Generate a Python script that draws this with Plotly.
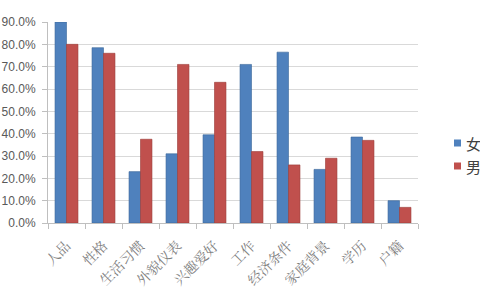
import plotly.graph_objects as go

categories = ["人品", "性格", "生活习惯", "外貌仪表", "兴趣爱好", "工作", "经济条件", "家庭背景", "学历", "户籍"]
female = [0.90, 0.785, 0.23, 0.31, 0.395, 0.71, 0.765, 0.24, 0.385, 0.10]
male = [0.80, 0.76, 0.375, 0.71, 0.63, 0.32, 0.26, 0.29, 0.37, 0.07]
series_names = ["女", "男"]
series_colors = ["#4F81BD", "#C0504D"]
ytick_vals = [i / 10 for i in range(10)]
ytick_text = [f"{i*10}.0%" for i in range(10)]

fig = go.Figure()
fig.add_trace(go.Bar(x=categories, y=female, name=series_names[0],
                     marker=dict(color=series_colors[0], line=dict(color="#3A6699", width=0.6))))
fig.add_trace(go.Bar(x=categories, y=male, name=series_names[1],
                     marker=dict(color=series_colors[1], line=dict(color="#9A3B38", width=0.6))))

# manual legend (paper coordinates relative to plot area)
W, H = 480, 300
L, R, T, B = 48, 62, 22, 77
pw, ph = W - L - R, H - T - B

def px_x(x):
    return (x - L) / pw

def px_y(y):
    return (H - B - y) / ph

shapes = []
annotations = []
for i, (name, col) in enumerate(zip(series_names, series_colors)):
    cy = 143 + i * 23
    shapes.append(dict(type="rect", xref="paper", yref="paper",
                       x0=px_x(454), x1=px_x(461), y0=px_y(cy + 3.5), y1=px_y(cy - 3.5),
                       fillcolor=col, line=dict(width=0)))
    annotations.append(dict(xref="paper", yref="paper", x=px_x(464), y=px_y(cy),
                            xanchor="left", yanchor="middle", text=name, showarrow=False,
                            font=dict(size=15, family="Noto Sans CJK SC", color="#404040")))

fig.update_layout(
    width=W, height=H,
    margin=dict(l=L, r=R, t=T, b=B, autoexpand=False),
    paper_bgcolor="white", plot_bgcolor="white",
    barmode="group", bargap=0.38, bargroupgap=0.0,
    font=dict(family="Liberation Sans, Arial, Noto Sans CJK SC", color="#595959", size=12),
    showlegend=False,
    shapes=shapes, annotations=annotations,
    xaxis=dict(showline=True, linecolor="#BFBFBF", ticks="outside", tickson="boundaries",
               ticklen=5, tickcolor="#BFBFBF", tickangle=-45, automargin=False,
               ticklabelstandoff=8,
               tickfont=dict(family="Noto Serif CJK SC, Noto Sans CJK SC", size=14, color="#7F7F7F")),
    yaxis=dict(range=[0, 0.9], tickvals=ytick_vals + [0.9], ticktext=ytick_text + ["90.0%"],
               showgrid=True, gridcolor="#D9D9D9", gridwidth=1, zeroline=False,
               showline=True, linecolor="#BFBFBF", ticks="outside", ticklen=5, tickcolor="#BFBFBF",
               automargin=False, ticklabelstandoff=4,
               tickfont=dict(size=12, color="#595959")),
)

fig.write_html("out.html")
